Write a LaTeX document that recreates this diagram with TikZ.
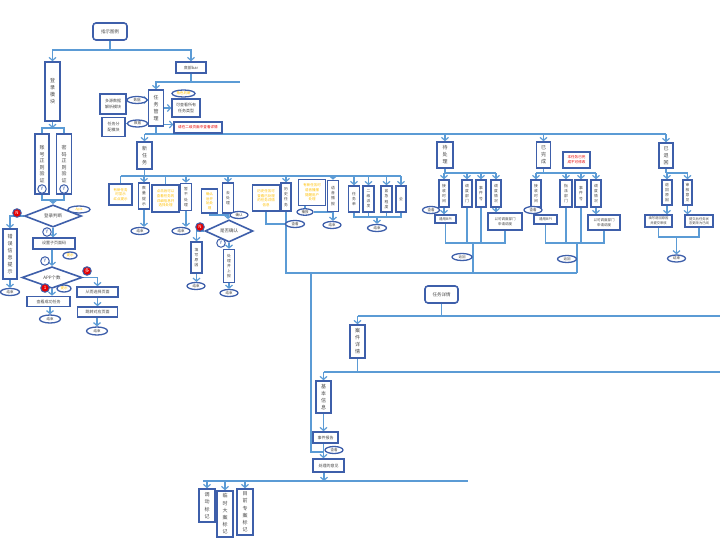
\documentclass[tikz,border=0pt]{standalone}
\usepackage{fontspec}
\newfontfamily\cjk{Noto Sans CJK SC}
\usetikzlibrary{shapes.geometric,arrows.meta,backgrounds}
\definecolor{boxc}{RGB}{62,95,170}
\definecolor{linec}{RGB}{91,155,213}
\definecolor{txtc}{RGB}{70,70,70}
\definecolor{yel}{RGB}{255,192,0}
\definecolor{redc}{RGB}{230,0,0}
\begin{document}
\begin{tikzpicture}[x=1pt,y=-1pt,
  box/.style={draw=boxc,line width=1.6pt,fill=white,inner sep=0pt,align=center,text=txtc},
  vbox/.style={box,font=\cjk\fontsize{5}{7}\selectfont},
  vsbox/.style={box,font=\cjk\fontsize{3.8}{5.2}\selectfont},
  hbox/.style={box,font=\cjk\fontsize{4}{5.3}\selectfont},
  ybox/.style={box,text=yel,font=\cjk\fontsize{3.5}{4.6}\selectfont},
  rbox/.style={box,text=redc,font=\cjk\fontsize{3.6}{4.8}\selectfont},
  oval/.style={ellipse,draw=boxc,line width=1.3pt,fill=white,inner sep=0pt,text=txtc,font=\cjk\fontsize{3.5}{4}\selectfont,minimum width=18,minimum height=7},
  yoval/.style={oval,text=yel},
  ycirc/.style={circle,draw=boxc,line width=1pt,fill=white,text=boxc,inner sep=0pt,minimum size=8.5pt,font=\cjk\fontsize{5}{5}\selectfont},
  ncirc/.style={circle,draw=boxc,line width=1pt,fill=redc,text=white,inner sep=0pt,minimum size=8.5pt,font=\cjk\fontsize{4.5}{5}\selectfont},
  dia/.style={diamond,draw=boxc,line width=1.6pt,fill=white,inner sep=0pt,text=txtc,font=\cjk\fontsize{4.5}{5}\selectfont},
  ln/.style={draw=linec,line width=1.4pt},
  arr/.style={ln,-{Straight Barb[length=3pt,width=7pt,line width=1.2pt]}}]
\useasboundingbox (0,0) rectangle (723,541);

% ---------- top / login ----------
\node[box,rounded corners=3pt,minimum width=34,minimum height=17,font=\cjk\fontsize{4.5}{5}\selectfont] (top) at (110,31.5) {指示图例};
\node[vbox,minimum width=15,minimum height=59] (login) at (52.5,91.5) {登\\录\\模\\块};
\node[vbox,minimum width=14,minimum height=60,font=\cjk\fontsize{5}{6.5}\selectfont] (acc) at (42,164) {账\\号\\正\\则\\验\\证};
\node[vbox,minimum width=15,minimum height=60,font=\cjk\fontsize{5}{6.5}\selectfont] (pwd) at (64,164) {密\\码\\正\\则\\验\\证};
\node[ycirc] (y1c) at (42,189) {Y};
\node[ycirc] (y2c) at (64,189) {Y};
\node[dia,minimum width=57,minimum height=18] (dj) at (53,216) {登录判断};
\node[yoval,minimum width=22] (apis) at (79,209.5) {Apis};
\node[ncirc] (n1) at (17,213) {N};
\node[vbox,minimum width=14,minimum height=50] (err) at (10,254) {错\\误\\信\\息\\提\\示};
\node[oval,minimum width=19] (e1) at (10,292) {结束};
\node[ycirc] (y3c) at (47,232) {Y};
\node[hbox,minimum width=42,minimum height=11] (setc) at (54,243.5) {设置子页面码};
\node[ycirc] (y4c) at (45,261) {Y};
\node[yoval,minimum width=14] (tg2) at (70,255.5) {提示};
\node[dia,minimum width=60,minimum height=15] (app) at (52,277.5) {APP个数};
\node[ncirc] (r1c) at (87,271) {多};
\node[ncirc] (r2c) at (45,288) {1};
\node[yoval,minimum width=14] (tg3) at (64,288.5) {提示};
\node[hbox,minimum width=43,minimum height=10] (succ) at (48.5,301.5) {查看成功任务};
\node[oval,minimum width=21,minimum height=8] (e2) at (50,319) {结束};
\node[hbox,minimum width=41,minimum height=10] (sel) at (97.5,292) {从而选择页面};
\node[hbox,minimum width=40,minimum height=10] (jump) at (97.5,312) {跳转对应页面};
\node[oval,minimum width=21,minimum height=8] (e3) at (97,331) {结束};

% ---------- task management ----------
\node[hbox,minimum width=30,minimum height=11] (bar) at (191,67.5) {底部bar};
\node[hbox,minimum width=26,minimum height=20] (src) at (113,104) {多源数据\\解析模块};
\node[hbox,minimum width=23,minimum height=19] (asg) at (113.5,127) {任务分\\配模块};
\node[oval,minimum width=20] (o1) at (137,100) {数据};
\node[oval,minimum width=20] (o2) at (137.5,123.5) {数据};
\node[vbox,minimum width=15,minimum height=36] (mgr) at (156,108) {任\\务\\管\\理};
\node[yoval,minimum width=23] (tm) at (183.5,93.5) {角色判断};
\node[hbox,minimum width=28,minimum height=18] (allt) at (186,108) {可查看所有\\任务类型};
\node[rbox,minimum width=48,minimum height=11] (redb) at (198,127.5) {请在二级页面中查看详情};
\node[vbox,minimum width=15,minimum height=27] (newt) at (144.5,155.5) {新\\任\\务};

\node[ybox,minimum width=23,minimum height=21] (yb1) at (120.5,194.5) {有新任务\\时显示\\红点提示};
\node[vsbox,minimum width=11,minimum height=26] (c1) at (144,196) {数\\量\\提\\示};
\node[oval] (ec1) at (140,231) {结束};
\node[ybox,minimum width=27,minimum height=27] (yb2) at (165.5,198.5) {点击后可以\\查看任务的\\详细信息并\\选择处理};
\node[vsbox,minimum width=11,minimum height=27] (c2) at (186,197) {暂\\不\\处\\理};
\node[oval] (ec2) at (181,231) {结束};
\node[ybox,minimum width=16,minimum height=24] (yb3) at (209.5,201) {确认\\后开\\始处\\理};
\node[vsbox,minimum width=11,minimum height=30] (c3) at (228,198) {去\\处\\理};
\node[oval,minimum width=18] (o3) at (239,215) {确认};
\node[dia,minimum width=48,minimum height=15] (conf) at (229,231) {是否确认};
\node[ncirc] (n2) at (200,227) {N};
\node[vsbox,minimum width=11,minimum height=31] (rej) at (196.5,257.5) {填\\写\\原\\因};
\node[oval] (erej) at (196,286) {结束};
\node[ycirc] (y5c) at (221,243) {Y};
\node[vsbox,minimum width=11,minimum height=33] (okb) at (229,266) {处\\理\\并\\上\\报};
\node[oval] (eok) at (229,293) {结束};

\node[ybox,minimum width=27,minimum height=26] (yb4) at (266,198) {历史任务可\\查看已处理\\的任务详情\\信息};
\node[vsbox,minimum width=10,minimum height=28] (hist) at (286,197) {历\\史\\任\\务};
\node[oval,minimum width=19] (o4) at (295,224) {查看};
\node[ybox,minimum width=27,minimum height=26] (yb5) at (312,192.5) {有新任务时\\语音播报\\提醒用户\\处理};
\node[oval,minimum width=16,minimum height=6.5] (o5) at (305,212) {播报};
\node[vsbox,minimum width=11,minimum height=31] (voice) at (333,196) {语\\音\\播\\报};
\node[oval] (ev) at (332,225) {结束};
\node[vsbox,minimum width=11,minimum height=26] (f1) at (354,199) {任\\务\\单};
\node[vsbox,minimum width=11,minimum height=26] (f2) at (368.5,199) {二\\级\\派\\发};
\node[vsbox,minimum width=11,minimum height=26] (f3) at (386.5,199) {紧\\急\\程\\度};
\node[vsbox,minimum width=10,minimum height=26] (f4) at (401,199) {全};
\node[oval,minimum width=19] (ef) at (377,228) {结束};

% ---------- right groups ----------
\node[vbox,minimum width=16,minimum height=26] (todo) at (445,155) {待\\处\\理};
\node[vsbox,minimum width=10,minimum height=27] (t1) at (444,193.5) {接\\收\\时\\间};
\node[vsbox,minimum width=10,minimum height=27] (t2) at (467,193.5) {调\\度\\部\\门};
\node[vsbox,minimum width=10,minimum height=27] (t3) at (481,193.5) {事\\件\\号};
\node[vsbox,minimum width=10,minimum height=27] (t4) at (496,193.5) {调\\度\\情\\况};
\node[oval,minimum width=17] (o6) at (431,210) {查看};
\node[hbox,minimum width=21,minimum height=8,font=\cjk\fontsize{3.5}{4}\selectfont] (tb1) at (445.5,219) {通用BPI};
\node[hbox,minimum width=34,minimum height=17,font=\cjk\fontsize{3.5}{4.6}\selectfont] (tb4) at (505,221.5) {以可调度部门\\申请调度};
\node[oval,minimum width=20] (o7) at (462,257) {返回};

\node[vbox,minimum width=14,minimum height=26] (done) at (543.5,155) {已\\完\\成};
\node[rbox,minimum width=27,minimum height=16] (rd) at (576.5,160) {本任务已完\\成不可修改};
\node[vsbox,minimum width=10,minimum height=27] (d1) at (536,193.5) {接\\收\\时\\间};
\node[vsbox,minimum width=12,minimum height=27] (d2) at (566,193.5) {指\\派\\部\\门};
\node[vsbox,minimum width=12,minimum height=27] (d3) at (581,193.5) {事\\件\\号};
\node[vsbox,minimum width=10,minimum height=27] (d4) at (596,193.5) {调\\度\\情\\况};
\node[oval] (o8) at (533,210) {查看};
\node[hbox,minimum width=23,minimum height=9,font=\cjk\fontsize{3.5}{4}\selectfont] (db1) at (545.5,219.5) {通用BPI};
\node[hbox,minimum width=32,minimum height=15,font=\cjk\fontsize{3.5}{4.6}\selectfont] (db4) at (604,222.5) {以可调度部门\\申请调度};
\node[oval,minimum width=19] (o9) at (567,259) {返回};

\node[vbox,minimum width=14,minimum height=25] (ret) at (666,155.5) {已\\退\\回};
\node[vsbox,minimum width=10,minimum height=25] (q1) at (667,192.5) {退\\回\\原\\因};
\node[vsbox,minimum width=9,minimum height=25] (q2) at (687.5,192.5) {审\\核\\意\\见};
\node[hbox,minimum width=27,minimum height=12,font=\cjk\fontsize{3.3}{4.5}\selectfont] (rb1) at (658.5,221) {填写退回原因\\并提交审核};
\node[hbox,minimum width=28,minimum height=12,font=\cjk\fontsize{3.3}{4.5}\selectfont] (rb2) at (699,221) {提交后任务状\\态更改为已阅};
\node[oval] (er) at (676.5,258.5) {结束};

% ---------- detail ----------
\node[box,rounded corners=3pt,minimum width=33,minimum height=17,font=\cjk\fontsize{4.5}{5}\selectfont] (det) at (441.5,294.5) {任务详情};
\node[vbox,minimum width=15,minimum height=33] (case) at (357.5,341.5) {案\\件\\详\\情};
\node[vbox,minimum width=15,minimum height=32] (basic) at (323.5,397) {基\\本\\信\\息};
\node[hbox,minimum width=25,minimum height=11] (rep) at (325.5,437.5) {事件报告};
\node[oval] (o10) at (334,450) {查看};
\node[hbox,minimum width=31,minimum height=13] (opin) at (328.5,465.5) {处理的意见};
\node[vbox,minimum width=16,minimum height=33,font=\cjk\fontsize{5}{7.5}\selectfont] (m1) at (207,505.5) {调\\动\\标\\记};
\node[vbox,minimum width=16,minimum height=46,font=\cjk\fontsize{5}{7.2}\selectfont] (m2) at (225,514) {临\\时\\大\\案\\标\\记};
\node[vbox,minimum width=16,minimum height=46,font=\cjk\fontsize{5}{7.2}\selectfont] (m3) at (245,512) {目\\前\\专\\案\\标\\记};

% ---------- connectors ----------
\begin{pgfonlayer}{background}
\fill[white] (0,0) rectangle (723,541);
\coordinate (j1) at (110,50);
\draw[ln] (top) -- (j1);
\draw[arr] (j1) -| (login.north);
\draw[arr] (j1) -| (bar.north);
\coordinate (j2) at (52.5,128);
\draw[arr] (login) -- (j2);
\draw[ln] (acc.north) |- (j2) -| (pwd.north);
\coordinate (j3) at (53,200);
\draw[ln] (y1c) |- (j3) -| (y2c);
\draw[arr] (j3) -- (dj.north);
\draw[arr] (dj.west) -| (err.north);
\draw[arr] (dj.south) -- (dj.south |- setc.north);
\draw[arr] (err) -- (e1);
\draw[arr] (app.north |- setc.south) -- (app.north);
\draw[arr] (app.south) -- (app.south |- succ.north);
\draw[arr] (app.east) -| (sel.north);
\draw[arr] (e2.north |- succ.south) -- (e2.north);
\draw[arr] (sel.south) -- (sel.south |- jump.north);
\draw[arr] (e3.north |- jump.south) -- (e3.north);

\coordinate (j4) at (191,82);
\coordinate (j4e) at (240,82);
\draw[ln] (bar) -- (j4);
\draw[arr] (j4) -| (mgr.north);
\draw[ln] (j4) -- (j4e);
\draw[ln] (src) -- (o1);
\draw[arr] (o1.east) -- (o1.east -| mgr.west);
\draw[ln] (asg.east |- o2) -- (o2);
\draw[arr] (o2.east) -- (o2.east -| mgr.west);
\draw[arr] (mgr.east |- allt) -- (allt.west);
\coordinate (jr0) at (163.5,124.5);
\draw[arr] (jr0) -- (jr0 -| redb.west);

\coordinate (j5) at (156,134);
\draw[ln] (mgr) -- (j5);
\draw[ln] (newt.north |- j5) -- (ret.north |- j5);
\draw[arr] (newt.north |- j5) -- (newt.north);
\draw[arr] (todo.north |- j5) -- (todo.north);
\draw[arr] (done.north |- j5) -- (done.north);
\draw[arr] (ret.north |- j5) -- (ret.north);

\coordinate (j6) at (144.5,176);
\draw[ln] (newt) -- (j6);
\draw[ln] (yb1.north |- j6) -- (f4.north |- j6);
\draw[ln] (yb1) -- (yb1.north |- j6);
\draw[ln] (yb2) -- (yb2.north |- j6);
\foreach \n in {c1,c2,c3,hist,voice,f1,f2,f3,f4}
  \draw[arr] (\n.north |- j6) -- (\n.north);
\draw[arr] (c1.south) -- (c1.south |- ec1.north);
\draw[arr] (c2.south) -- (c2.south |- ec2.north);
\draw[arr] (c3.south) -- (c3.south |- conf.north);
\draw[ln] (yb3.south) |- (c3.south |- o3);
\draw[arr] (conf.west) -| (rej.north);
\draw[arr] (conf.south) -- (conf.south |- okb.north);
\draw[arr] (rej.south) -- (rej.south |- erej.north);
\draw[arr] (okb.south) -- (okb.south |- eok.north);

\draw[ln] (yb4.south) |- (o4.west);
\coordinate (k1) at (286,273);
\coordinate (k2) at (577,273);
\coordinate (j7) at (311,273);
\draw[ln] (hist) -- (k1) -- (k2);
\draw[ln] (yb5.south -| o5) -- (o5);
\draw[ln] (o5.east) -- (voice.south |- o5.east);
\draw[arr] (voice.south) -- (voice.south |- ev.north);
\coordinate (j8) at (377,217);
\draw[ln] (f1.south) |- (j8) -| (f4.south);
\draw[ln] (f2.south) -- (f2.south |- j8);
\draw[ln] (f3.south) -- (f3.south |- j8);
\draw[arr] (j8) -- (ef.north);

\coordinate (jt) at (445,173);
\coordinate (jt2) at (473,243);
\draw[ln] (todo) -- (jt);
\draw[ln] (t1.north |- jt) -- (t4.north |- jt);
\foreach \n in {t1,t2,t3,t4} \draw[arr] (\n.north |- jt) -- (\n.north);
\draw[arr] (t1.south) -- (t1.south |- tb1.north);
\draw[arr] (t4.south) -- (t4.south |- tb4.north);
\draw[ln] (tb1.south) -- (tb1.south |- jt2) -- (tb4.south |- jt2) -- (tb4.south);
\draw[ln] (t2.south) -- (t2.south |- jt2);
\draw[ln] (t3.south) -- (t3.south |- jt2);
\draw[ln] (jt2) -- (jt2 |- k2);

\coordinate (jd) at (543.5,173);
\coordinate (jd2) at (577,243);
\draw[ln] (done) -- (jd);
\draw[ln] (d1.north |- jd) -- (d4.north |- jd);
\foreach \n in {d1,d2,d3,d4} \draw[arr] (\n.north |- jd) -- (\n.north);
\draw[arr] (d1.south) -- (d1.south |- db1.north);
\draw[arr] (d4.south) -- (d4.south |- db4.north);
\draw[ln] (db1.south) -- (db1.south |- jd2) -- (db4.south |- jd2) -- (db4.south);
\draw[ln] (d2.south) -- (d2.south |- jd2);
\draw[ln] (d3.south) -- (d3.south |- jd2);
\draw[ln] (jd2) -- (k2);

\coordinate (jr) at (667,173);
\coordinate (jr2) at (676.5,237);
\draw[ln] (ret) -- (ret.south |- jr);
\draw[ln] (q1.north |- jr) -- (q2.north |- jr);
\draw[arr] (q1.north |- jr) -- (q1.north);
\draw[arr] (q2.north |- jr) -- (q2.north);
\draw[arr] (q1.south) -- (q1.south |- rb1.north);
\draw[arr] (q2.south) -- (q2.south |- rb2.north);
\draw[ln] (rb1.south) |- (jr2) -| (rb2.south);
\draw[arr] (jr2) -- (er.north);

\coordinate (jd3) at (441.5,316);
\coordinate (e316) at (720,316);
\draw[ln] (det) -- (jd3);
\draw[ln] (case.north |- jd3) -- (e316);
\draw[arr] (case.north |- jd3) -- (case.north);
\coordinate (jc) at (357.5,372);
\coordinate (e372) at (720,372);
\draw[ln] (case) -- (jc);
\draw[ln] (basic.north |- jc) -- (e372);
\draw[arr] (basic.north |- jc) -- (basic.north);
\draw[arr] (basic.south) -- (basic.south |- rep.north);
\coordinate (jv) at (311,452);
\draw[ln] (j7) -- (jv) -- (basic.south |- jv);
\draw[arr] (basic.south |- rep.south) -- (basic.south |- opin.north);
\coordinate (jo) at (324,481);
\coordinate (jos) at (203,481);
\coordinate (joe) at (468,481);
\draw[arr] (opin.south -| jo) -- (jo);
\draw[ln] (jos) -- (joe);
\foreach \n in {m1,m2,m3} \draw[arr] (\n.north |- jo) -- (\n.north);
\end{pgfonlayer}
\end{tikzpicture}
\end{document}
